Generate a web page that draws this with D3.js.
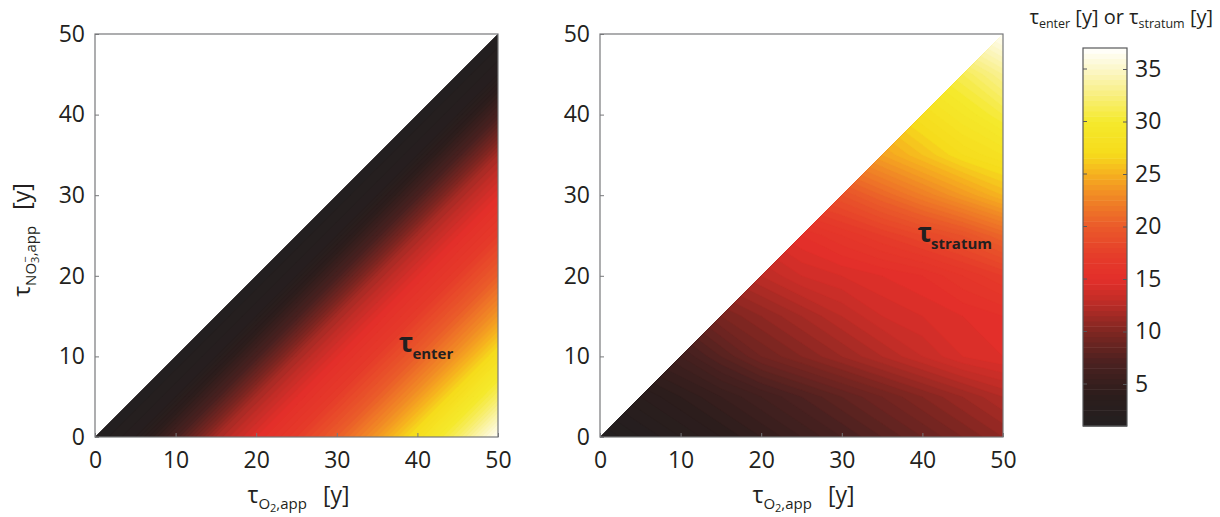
<!DOCTYPE html>
<html>
<head>
<meta charset="utf-8">
<script src="https://cdn.jsdelivr.net/npm/d3@7"></script>
<style>
  body { margin: 0; background: #fff; }
  text { font-family: "Open Sans", sans-serif; fill: #231f20; }
</style>
</head>
<body>
<svg id="chart" width="1220" height="517"></svg>
<script>
// grille des temps apparents (ans)
const gridSteps = [0, 5, 10, 15, 20, 25, 30, 35, 40, 45, 50];

// tau_enter, lignes = tau_NO3 (0 -> 50), colonnes = tau_O2 (0 -> 50)
const tauEnter = [
  [1, 2.5, 7, 12, 15, 17.5, 20.5, 24, 28, 32, 37],
  [null, 1, 2.5, 7, 12, 15, 17.5, 20.5, 24, 28, 32],
  [null, null, 1, 2.5, 7, 12, 15, 17.5, 20.5, 24, 28],
  [null, null, null, 1, 2.5, 7, 12, 15, 17.5, 20.5, 24],
  [null, null, null, null, 1, 2.5, 7, 12, 15, 17.5, 20.5],
  [null, null, null, null, null, 1, 2.5, 7, 12, 15, 17.5],
  [null, null, null, null, null, null, 1, 2.5, 7, 12, 15],
  [null, null, null, null, null, null, null, 1, 2.5, 7, 12],
  [null, null, null, null, null, null, null, null, 1, 2.5, 7],
  [null, null, null, null, null, null, null, null, null, 1, 2.5],
  [null, null, null, null, null, null, null, null, null, null, 1]
];

// tau_stratum, meme grille
const tauStratum = [
  [1, 2, 3, 4, 5, 6, 7, 8, 9, 10, 11],
  [null, 3.5, 4.5, 5.5, 6.5, 7.5, 8.5, 9.5, 10.5, 11.5, 12.5],
  [null, null, 6.5, 8, 9.5, 10.5, 11.5, 12.5, 13.5, 14.5, 15],
  [null, null, null, 10, 11, 12, 13, 14, 14.5, 15, 15.5],
  [null, null, null, null, 13, 14, 14.5, 15, 15.5, 16.5, 17.5],
  [null, null, null, null, null, 15.5, 16.5, 17.5, 18.5, 19.5, 21],
  [null, null, null, null, null, null, 19.5, 21, 22.5, 24, 25.5],
  [null, null, null, null, null, null, null, 24.5, 26, 27.5, 28.5],
  [null, null, null, null, null, null, null, null, 28, 29.5, 31],
  [null, null, null, null, null, null, null, null, null, 31.5, 33.5],
  [null, null, null, null, null, null, null, null, null, null, 37]
];

const axisTicks = [0, 10, 20, 30, 40, 50];
const barTicks = [5, 10, 15, 20, 25, 30, 35];
const barDomain = [1, 37];

// palette noir -> rouge -> jaune -> blanc
const cmapValues = [1, 4, 7, 10, 13, 15, 17, 20, 23, 25, 27, 30, 33, 35, 37];
const cmapColors = ["#231f20", "#2c1d1c", "#4a2120", "#7e2621", "#c22d27", "#e32f2a", "#e53a2a",
  "#ea5a2a", "#f18a25", "#f6b01f", "#f6dc1c", "#f5e92c", "#f9f08c", "#fcf7c8", "#ffffff"];

const color = d3.scaleLinear().domain(cmapValues).range(cmapColors).clamp(true);
const levels = d3.range(0, 37.01, 0.5);

const svg = d3.select("#chart");
const plotTop = 34, size = 403;

const panels = [
  { id: "enter", data: tauEnter, left: 95, sub: "enter", lx: 37.7, ly: 10.5, yTitle: true },
  { id: "stratum", data: tauStratum, left: 600, sub: "stratum", lx: 39.4, ly: 24.2, yTitle: false }
];

const n = gridSteps.length;
const gridToVal = d3.scaleLinear().domain([0.5, n - 0.5]).range([gridSteps[0], gridSteps[n - 1]]);

// valeurs pour d3.contours : les noeuds juste au-dessus de la diagonale
// sont prolongés (plan) pour que les cellules diagonales se tracent bien,
// cette zone est ensuite masquée par le clip triangulaire
function contourValues(matrix) {
  const vals = matrix.map((row) => row.map((v) => (v == null ? NaN : v)));
  for (let k = 0; k < n - 1; k++) {
    vals[k + 1][k] = vals[k][k] + vals[k + 1][k + 1] - vals[k][k + 1];
  }
  return vals.flat();
}

panels.forEach((p) => {
  const x = d3.scaleLinear().domain([0, 50]).range([p.left, p.left + size]);
  const y = d3.scaleLinear().domain([0, 50]).range([plotTop + size, plotTop]);

  const g = svg.append("g");

  // triangle de clipping (tau_NO3 <= tau_O2)
  const clip = svg.append("clipPath").attr("id", "clip-" + p.id);
  clip.append("path").attr("d", d3.line()([[x(0), y(0)], [x(50), y(0)], [x(50), y(50)]]) + "Z");

  const contours = d3.contours().size([n, n]).thresholds(levels)(contourValues(p.data));

  const proj = d3.geoTransform({
    point: function (px, py) {
      this.stream.point(x(gridToVal(px)), y(gridToVal(py)));
    }
  });
  const path = d3.geoPath(proj);

  g.append("g")
    .attr("clip-path", "url(#clip-" + p.id + ")")
    .selectAll("path")
    .data(contours)
    .join("path")
    .attr("d", path)
    .attr("fill", (d) => color(d.value))
    .attr("stroke", (d) => color(d.value))
    .attr("stroke-width", 0.4);

  // cadre
  g.append("rect")
    .attr("x", x(0)).attr("y", y(50))
    .attr("width", x(50) - x(0)).attr("height", y(0) - y(50))
    .attr("fill", "none").attr("stroke", "#77787b").attr("stroke-width", 1.2);

  const ax = g.append("g").attr("transform", `translate(0,${y(0)})`)
    .call(d3.axisBottom(x).tickValues(axisTicks).tickSizeInner(-4).tickSizeOuter(0).tickPadding(15));
  const ay = g.append("g").attr("transform", `translate(${x(0)},0)`)
    .call(d3.axisLeft(y).tickValues(axisTicks).tickSizeInner(-4).tickSizeOuter(0).tickPadding(10));
  [ax, ay].forEach((a) => {
    a.select(".domain").remove();
    a.selectAll("line").attr("stroke", "#77787b");
    a.selectAll("text").style("font-size", "23px").attr("fill", "#231f20");
  });

  // titre axe x
  const xt = g.append("text")
    .attr("x", (x(0) + x(50)) / 2 + 2).attr("y", 503)
    .attr("text-anchor", "middle").style("font-size", "23px");
  xt.append("tspan").text("τ");
  xt.append("tspan").attr("dy", 6).style("font-size", "15px").text("O");
  xt.append("tspan").attr("dy", 3).style("font-size", "11px").text("2");
  xt.append("tspan").attr("dy", -3).style("font-size", "15px").text(",app");
  xt.append("tspan").attr("dy", -6).attr("dx", 16).text("[y]");

  if (p.yTitle) {
    const yt = g.append("text")
      .attr("transform", "translate(30,240) rotate(-90)")
      .attr("text-anchor", "middle").style("font-size", "23px");
    yt.append("tspan").text("τ");
    yt.append("tspan").attr("dy", 6).style("font-size", "15px").text("NO");
    yt.append("tspan").attr("dy", 3).style("font-size", "11px").text("3");
    yt.append("tspan").attr("dy", -10).attr("dx", -6).style("font-size", "11px").text("−");
    yt.append("tspan").attr("dy", 7).style("font-size", "15px").text(",app");
    yt.append("tspan").attr("dy", -6).attr("dx", 16).text("[y]");
  }

  // etiquette dans le graphe
  const lab = g.append("text")
    .attr("x", x(p.lx)).attr("y", y(p.ly))
    .style("font-weight", "bold");
  lab.append("tspan").style("font-size", "27px").text("τ");
  lab.append("tspan").attr("dy", 7).attr("dx", -1).style("font-size", "15px").text(p.sub);
});

// barre de couleur
const bx = 1083, bw = 44;
const by = d3.scaleLinear().domain(barDomain).range([426, 48]);
const bar = svg.append("g");
const bands = d3.range(barDomain[0], barDomain[1], 0.5);
bar.selectAll("rect.band")
  .data(bands)
  .join("rect")
  .attr("class", "band")
  .attr("x", bx).attr("width", bw)
  .attr("y", (d) => by(d + 0.5))
  .attr("height", (d) => by(d) - by(d + 0.5) + 0.5)
  .attr("fill", (d) => color(d + 0.25));
bar.append("rect")
  .attr("x", bx).attr("y", by(barDomain[1]))
  .attr("width", bw).attr("height", by(barDomain[0]) - by(barDomain[1]))
  .attr("fill", "none").attr("stroke", "#58595b").attr("stroke-width", 1.2);

const barAxis = bar.append("g").attr("transform", `translate(${bx + bw},0)`)
  .call(d3.axisRight(by).tickValues(barTicks).tickSizeInner(-4).tickSizeOuter(0).tickPadding(8));
barAxis.select(".domain").remove();
barAxis.selectAll("line").attr("stroke", "#58595b");
barAxis.selectAll("text").style("font-size", "23px").attr("fill", "#231f20");
bar.selectAll("line.lt")
  .data(barTicks)
  .join("line")
  .attr("class", "lt")
  .attr("x1", bx).attr("x2", bx + 4)
  .attr("y1", (d) => by(d)).attr("y2", (d) => by(d))
  .attr("stroke", "#58595b");

const bt = bar.append("text")
  .attr("x", 1213).attr("y", 24)
  .attr("text-anchor", "end").style("font-size", "20px");
bt.append("tspan").text("τ");
bt.append("tspan").attr("dy", 4).style("font-size", "12.5px").text("enter");
bt.append("tspan").attr("dy", -4).text(" [y] or τ");
bt.append("tspan").attr("dy", 4).style("font-size", "12.5px").text("stratum");
bt.append("tspan").attr("dy", -4).text(" [y]");
</script>
</body>
</html>
